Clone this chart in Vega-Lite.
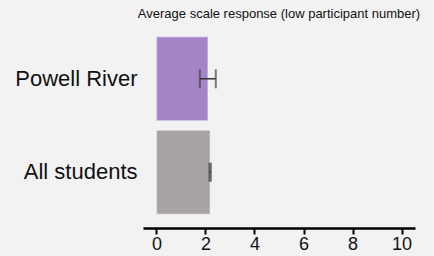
{
  "$schema": "https://vega.github.io/schema/vega-lite/v6.json",
  "width": 272,
  "height": 205,
  "autosize": {"type": "none"},
  "padding": {"left": 143, "top": 23, "right": 19, "bottom": 28},
  "background": "#f2f2f2",
  "title": {
    "text": "Average scale response (low participant number)",
    "font": "Liberation Sans",
    "fontSize": 13,
    "fontWeight": "normal",
    "color": "#111111",
    "anchor": "middle",
    "offset": 2
  },
  "config": {
    "view": {"stroke": null},
    "font": "Liberation Sans"
  },
  "data": {
    "values": [
      {"group": "Powell River", "mean": 2.1, "lo": 1.77, "hi": 2.42, "color": "purple"},
      {"group": "All students", "mean": 2.19, "lo": 2.16, "hi": 2.22, "color": "gray"}
    ]
  },
  "layer": [
    {
      "mark": {"type": "bar", "stroke": "#ffffff", "strokeOpacity": 0.35, "strokeWidth": 1.5},
      "encoding": {
        "y": {
          "field": "group", "type": "nominal", "sort": ["Powell River", "All students"],
          "scale": {"paddingInner": 0.1, "paddingOuter": 0.147},
          "axis": {"title": null, "ticks": false, "domain": false, "labelFontSize": 22, "labelColor": "#111111", "labelPadding": 6, "labelFont": "Liberation Sans"}
        },
        "x": {
          "field": "mean", "type": "quantitative",
          "scale": {"domain": [-0.55, 10.55], "nice": false, "zero": false},
          "axis": {"title": null, "values": [0, 2, 4, 6, 8, 10], "grid": false, "domainColor": "#000000", "domainWidth": 2.5, "tickColor": "#000000", "tickWidth": 2, "tickSize": 6, "labelFontSize": 18, "labelColor": "#111111", "labelPadding": 1, "labelFont": "Liberation Sans"}
        },
        "color": {
          "field": "color", "type": "nominal", "legend": null,
          "scale": {"domain": ["purple", "gray"], "range": ["#a584c7", "#a7a3a7"]}
        }
      }
    },
    {
      "mark": {"type": "rule", "color": "#333333", "strokeWidth": 1.5},
      "encoding": {
        "y": {"field": "group", "type": "nominal", "sort": ["Powell River", "All students"]},
        "x": {"field": "lo", "type": "quantitative"},
        "x2": {"field": "hi"}
      }
    },
    {
      "mark": {"type": "tick", "orient": "vertical", "color": "#444444", "thickness": 2, "size": 19},
      "encoding": {
        "y": {"field": "group", "type": "nominal", "sort": ["Powell River", "All students"]},
        "x": {"field": "lo", "type": "quantitative"}
      }
    },
    {
      "mark": {"type": "tick", "orient": "vertical", "color": "#444444", "thickness": 2, "size": 19},
      "encoding": {
        "y": {"field": "group", "type": "nominal", "sort": ["Powell River", "All students"]},
        "x": {"field": "hi", "type": "quantitative"}
      }
    }
  ]
}
